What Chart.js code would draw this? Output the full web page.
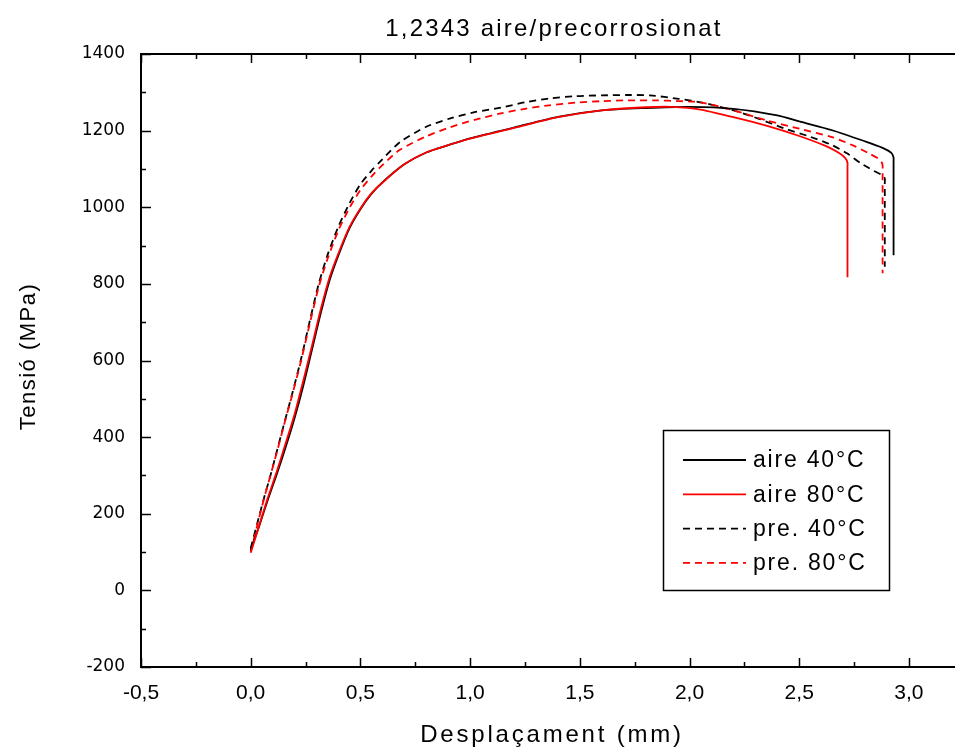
<!DOCTYPE html>
<html>
<head>
<meta charset="utf-8">
<script src="https://cdn.jsdelivr.net/npm/chart.js@4.4.1/dist/chart.umd.min.js"></script>
<style>
  html, body { margin: 0; padding: 0; background: #fff; overflow: hidden; }
</style>
</head>
<body>
<canvas id="c" width="955" height="749"></canvas>
<script>
// Texts
const chartTitle = '1,2343 aire/precorrosionat';
const xTitle = 'Desplaçament (mm)';
const yTitle = 'Tensió (MPa)';
const seriesNames = ['aire 40°C', 'aire 80°C', 'pre. 40°C', 'pre. 80°C'];

// Axis ticks
const xTicks = [-0.5, 0, 0.5, 1.0, 1.5, 2.0, 2.5, 3.0];
const yTicks = [-200, 0, 200, 400, 600, 800, 1000, 1200, 1400];
const xMinorStep = 0.25;
const yMinorStep = 100;

// aire 40 °C
const aire40X = [0, 0.04, 0.08, 0.12, 0.16, 0.20, 0.24, 0.28, 0.32, 0.36, 0.40, 0.45, 0.50, 0.55, 0.60, 0.70, 0.80, 0.90, 1.00, 1.20, 1.40, 1.60, 1.80, 2.00, 2.20, 2.40, 2.50, 2.65, 2.80, 2.88, 2.92, 2.93, 2.93, 2.93];
const aire40Y = [105, 170, 240, 305, 375, 450, 535, 630, 725, 810, 875, 945, 995, 1035, 1065, 1112, 1143, 1162, 1180, 1208, 1236, 1253, 1259, 1262, 1257, 1240, 1224, 1201, 1172, 1155, 1142, 1130, 1120, 875];

// aire 80 °C
const aire80X = [0, 0.04, 0.08, 0.12, 0.16, 0.20, 0.24, 0.28, 0.32, 0.36, 0.40, 0.45, 0.50, 0.55, 0.60, 0.70, 0.80, 0.90, 1.00, 1.20, 1.40, 1.60, 1.80, 1.92, 2.05, 2.20, 2.35, 2.50, 2.62, 2.68, 2.71, 2.72, 2.72, 2.72];
const aire80Y = [98, 172, 245, 312, 385, 460, 548, 640, 735, 818, 880, 948, 997, 1036, 1064, 1112, 1143, 1162, 1179, 1207, 1235, 1253, 1261, 1262, 1255, 1235, 1213, 1186, 1160, 1142, 1128, 1116, 1105, 817];

// pre. 40 °C
const pre40X = [0, 0.03, 0.06, 0.09, 0.12, 0.15, 0.19, 0.23, 0.27, 0.31, 0.35, 0.40, 0.45, 0.50, 0.55, 0.60, 0.68, 0.80, 0.91, 1.02, 1.14, 1.25, 1.36, 1.48, 1.60, 1.72, 1.82, 1.95, 2.05, 2.20, 2.32, 2.43, 2.55, 2.65, 2.72, 2.78, 2.84, 2.88, 2.89, 2.89, 2.89];
const pre40Y = [110, 175, 240, 300, 365, 430, 515, 605, 705, 800, 875, 950, 1010, 1060, 1095, 1125, 1170, 1210, 1232, 1248, 1260, 1274, 1284, 1290, 1292, 1293, 1292, 1283, 1274, 1253, 1230, 1206, 1184, 1162, 1140, 1115, 1095, 1083, 1075, 1065, 845];

// pre. 80 °C
const pre80X = [0, 0.03, 0.06, 0.09, 0.12, 0.15, 0.19, 0.23, 0.27, 0.31, 0.35, 0.40, 0.45, 0.50, 0.55, 0.60, 0.68, 0.80, 0.91, 1.02, 1.14, 1.25, 1.36, 1.48, 1.60, 1.72, 1.85, 1.95, 2.05, 2.20, 2.35, 2.50, 2.65, 2.75, 2.82, 2.86, 2.875, 2.88, 2.88, 2.88];
const pre80Y = [100, 170, 238, 300, 362, 428, 512, 600, 698, 792, 865, 940, 998, 1045, 1080, 1110, 1150, 1185, 1209, 1228, 1245, 1257, 1266, 1273, 1277, 1279, 1279, 1277, 1274, 1253, 1227, 1205, 1183, 1160, 1140, 1127, 1118, 1110, 1100, 828];

const pts = (xs, ys) => xs.map((x, i) => ({ x: x, y: ys[i] }));

const datasets = [
  { label: seriesNames[0], data: pts(aire40X, aire40Y), borderColor: '#000000', borderDash: [], order: 2 },
  { label: seriesNames[1], data: pts(aire80X, aire80Y), borderColor: '#ff0000', borderDash: [], order: 1 },
  { label: seriesNames[2], data: pts(pre40X, pre40Y), borderColor: '#000000', borderDash: [7, 5], order: 4 },
  { label: seriesNames[3], data: pts(pre80X, pre80Y), borderColor: '#ff0000', borderDash: [7, 5], order: 3 }
].map(d => Object.assign(d, {
  showLine: true, fill: false, pointRadius: 0, borderWidth: 1.8, tension: 0.25
}));

// Frame with inward ticks on the left, top and bottom edges
const framePlugin = {
  id: 'frame',
  afterDatasetsDraw(chart) {
    const { ctx, chartArea: a, scales: { x, y } } = chart;
    ctx.save();
    ctx.strokeStyle = '#000';
    ctx.lineWidth = 2;
    ctx.beginPath();
    ctx.moveTo(a.right, a.top); ctx.lineTo(a.left, a.top);
    ctx.lineTo(a.left, a.bottom); ctx.lineTo(a.right, a.bottom);
    ctx.stroke();
    ctx.lineWidth = 1.5;
    ctx.beginPath();
    for (let v = x.min; v <= x.max + 1e-9; v += xMinorStep) {
      const px = Math.round(x.getPixelForValue(v)) + 0.5;
      const major = Math.abs(v / 0.5 - Math.round(v / 0.5)) < 1e-6;
      const len = major ? 9 : 5;
      ctx.moveTo(px, a.bottom); ctx.lineTo(px, a.bottom - len);
      ctx.moveTo(px, a.top); ctx.lineTo(px, a.top + len);
    }
    for (let v = y.min; v <= y.max + 1e-9; v += yMinorStep) {
      const py = Math.round(y.getPixelForValue(v)) + 0.5;
      const major = Math.abs(v / 200 - Math.round(v / 200)) < 1e-6;
      const len = major ? 10 : 5;
      ctx.moveTo(a.left, py); ctx.lineTo(a.left + len, py);
    }
    ctx.stroke();
    ctx.restore();
  }
};

// Titles with spaced lettering
const titlePlugin = {
  id: 'titles',
  afterDraw(chart) {
    const { ctx, chartArea: a } = chart;
    ctx.save();
    ctx.fillStyle = '#000';
    ctx.textAlign = 'center';
    ctx.textBaseline = 'middle';
    ctx.font = '24px "Liberation Sans", Arial, sans-serif';
    ctx.letterSpacing = '2.2px';
    ctx.fillText(chartTitle, (a.left + a.right) / 2 + 6, 29);
    ctx.font = '24px "Liberation Sans", Arial, sans-serif';
    ctx.letterSpacing = '2.8px';
    ctx.fillText(xTitle, (a.left + a.right) / 2 + 4, 735);
    ctx.translate(29, (a.top + a.bottom) / 2 - 4);
    ctx.rotate(-Math.PI / 2);
    ctx.font = '22px "Liberation Sans", Arial, sans-serif';
    ctx.letterSpacing = '1.5px';
    ctx.fillText(yTitle, 0, 0);
    ctx.restore();
  }
};

// Boxed legend inside the plot
const legendPlugin = {
  id: 'boxLegend',
  afterDraw(chart) {
    const { ctx, chartArea: a } = chart;
    const bx = a.right - 292, by = a.top + 376, bw = 226, bh = 160;
    ctx.save();
    ctx.strokeStyle = '#000';
    ctx.lineWidth = 1.5;
    ctx.strokeRect(bx + 0.5, by + 0.5, bw, bh);
    ctx.font = '23px "Liberation Sans", Arial, sans-serif';
    ctx.letterSpacing = '1.8px';
    ctx.textBaseline = 'middle';
    ctx.textAlign = 'left';
    chart.data.datasets.forEach((d, i) => {
      const yy = by + 30 + i * 34.3;
      ctx.strokeStyle = d.borderColor;
      ctx.lineWidth = 1.8;
      ctx.setLineDash(d.borderDash || []);
      ctx.beginPath();
      ctx.moveTo(bx + 20, yy); ctx.lineTo(bx + 83, yy);
      ctx.stroke();
      ctx.setLineDash([]);
      ctx.fillStyle = '#000';
      ctx.fillText(d.label, bx + 90, yy + 1);
    });
    ctx.restore();
  }
};

new Chart(document.getElementById('c'), {
  type: 'scatter',
  data: { datasets },
  options: {
    responsive: false,
    animation: false,
    devicePixelRatio: 1,
    layout: { padding: { top: 54, right: 0, left: 0, bottom: 0 } },
    plugins: { legend: { display: false }, tooltip: { enabled: false }, title: { display: false } },
    scales: {
      x: {
        type: 'linear', min: -0.5, max: 3.21,
        afterBuildTicks: s => { s.ticks = xTicks.map(v => ({ value: v })); },
        afterFit: s => { s.height = 82; },
        grid: { display: false, drawTicks: false },
        border: { display: false },
        ticks: {
          padding: 14, color: '#000',
          font: { family: '"Liberation Sans", Arial', size: 21 },
          callback: v => v.toFixed(1).replace('.', ','),
          maxRotation: 0, autoSkip: false
        }
      },
      y: {
        type: 'linear', min: -200, max: 1400,
        afterBuildTicks: s => { s.ticks = yTicks.map(v => ({ value: v })); },
        afterFit: s => { s.width = 141; },
        grid: { display: false, drawTicks: false },
        border: { display: false },
        ticks: {
          padding: 16, color: '#000',
          font: { family: '"DejaVu Sans", Arial', size: 17 },
          callback: v => String(v),
          autoSkip: false
        }
      }
    }
  },
  plugins: [framePlugin, titlePlugin, legendPlugin]
});
</script>
</body>
</html>
